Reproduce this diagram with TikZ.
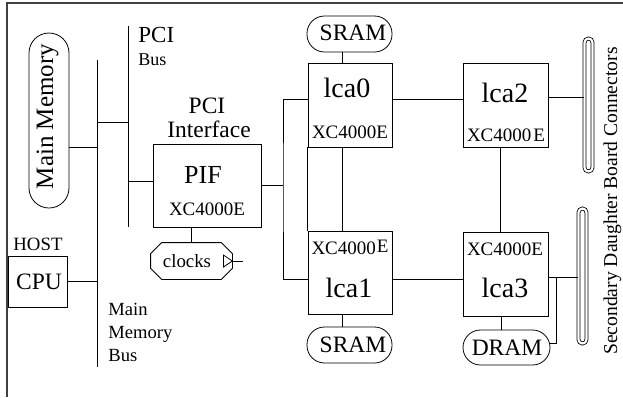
\documentclass[tikz,border=0pt]{standalone}
\usepackage{fontspec}
\setmainfont{Liberation Serif}
\usetikzlibrary{calc}

\begin{document}
\begin{tikzpicture}[x=1pt, y=-1pt, line width=0.8pt,
        box/.style={draw, inner sep=0pt},
        pill/.style={draw, inner sep=0pt, rounded corners=17.5pt},
        bar/.style={draw, double, double distance=2.2pt, inner sep=0pt, minimum width=8pt, rounded corners=4pt},
        lab/.style={inner sep=0pt, anchor=base},
        big/.style={lab, font=\fontsize{28}{28}\selectfont},
        mid/.style={lab, font=\fontsize{23.5}{23.5}\selectfont},
        small/.style={lab, font=\fontsize{19}{19}\selectfont}]
        \useasboundingbox (0,0) rectangle (623,397);
        \draw[line width=1.4pt, black!75] (623,3) -- (7,3) -- (7,397);
        
        % host side
        \node[pill, rounded corners=20pt, minimum width=40pt, minimum height=175pt] (mem) at (49,120.5) {};
        \node[lab, rotate=90, font=\fontsize{25}{25}\selectfont] (memtxt) at (53,116.5) {Main Memory};
        \node[box, minimum width=59pt, minimum height=51pt] (cpu) at (37.5,281.5) {};
        \node[mid] (cputxt) at (39,289) {CPU};
        \node[lab, anchor=base west, font=\fontsize{18.8}{18.8}\selectfont] (host) at (13,250) {HOST};
        
        % buses
        \coordinate (mmtop) at (97,60);
        \coordinate (mmbot) at (97,367);
        \coordinate (pcitop) at (128,26);
        \coordinate (pcibot) at (128,227);
        \coordinate (memtap) at (97,147);
        \coordinate (pcitap) at (97,122);
        \draw (mmtop) -- (mmbot);
        \draw (pcitop) -- (pcibot);
        \draw (memtap -| mem.east) -- (memtap);
        \draw (cpu.east) -- (cpu.east -| mmtop);
        \draw (pcitap) -- (pcitap -| pcitop);
        
        \node[lab, anchor=base west, font=\fontsize{23}{23}\selectfont] (pcilab) at (138,42) {PCI};
        \node[lab, anchor=base west, font=\fontsize{18}{18}\selectfont] (buslab) at (138,65) {Bus};
        \node[lab, anchor=base west, font=\fontsize{18.6}{18.6}\selectfont] (mmbA) at (108,315) {Main};
        \node[lab, anchor=base west, font=\fontsize{18.6}{18.6}\selectfont] (mmbB) at (108,338) {Memory};
        \node[lab, anchor=base west, font=\fontsize{18.6}{18.6}\selectfont] (mmbC) at (108,361) {Bus};
        
        % PCI interface
        \node[box, minimum width=108pt, minimum height=83pt] (pif) at (207,185.5) {};
        \node[lab, font=\fontsize{26}{26}\selectfont] (piftxt) at (203,183) {PIF};
        \node[small] (pifchip) at (207,215) {XC4000E};
        \node[mid] (pcia) at (207,113) {PCI};
        \node[mid] (pcib) at (209,137) {Interface};
        \draw (pif.176) -- (pif.176 -| pcitop);
        
        \node[inner sep=0pt, minimum width=81pt, minimum height=36pt] (clk) at (191.5,261) {};
        \draw ($(clk.north west)+(11,0)$) -- ($(clk.north east)+(-11,0)$) -- ($(clk.north east)+(0,11)$)
            -- ($(clk.south east)+(0,-11)$) -- ($(clk.south east)+(-11,0)$) -- ($(clk.south west)+(11,0)$)
            -- ($(clk.south west)+(0,-11)$) -- ($(clk.north west)+(0,11)$) -- cycle;
        \draw ($(clk.east)+(-9,-6)$) -- (clk.east) -- ($(clk.east)+(-9,6)$) -- cycle;
        \node[lab, font=\fontsize{18.8}{18.8}\selectfont] (clktxt) at (187,267) {clocks};
        \coordinate (clkout) at (243,261);
        \draw (clk.east) -- (clkout);
        \draw (clk.north) -- (clk.north |- pif.south);
        
        % lca chips
        \node[box, minimum width=84pt, minimum height=84pt] (lca0) at (350,105) {};
        \node[box, minimum width=84pt, minimum height=83pt] (lca1) at (350,272.5) {};
        \node[box, minimum width=85pt, minimum height=84pt] (lca2) at (505.5,105) {};
        \node[box, minimum width=85pt, minimum height=84pt] (lca3) at (505.5,274) {};
        
        \node[big] (lca0txt) at (347,97) {lca0};
        \node[small] (lca0chip) at (350,138) {XC4000E};
        \node[big] (lca1txt) at (349,297) {lca1};
        \node[small] (lca1chip) at (350,254) {XC4000\kern1pt\raisebox{2pt}{E}};
        \node[big] (lca2txt) at (505,102) {lca2};
        \node[small] (lca2chip) at (506,141) {XC4000\kern2pt E};
        \node[big] (lca3txt) at (505,297) {lca3};
        \node[small] (lca3chip) at (505,255) {XC4000E};
        
        % memories
        \node[pill, minimum width=85pt, minimum height=36pt] (sram0) at (349.5,34) {};
        \node[mid] (sram0txt) at (353,40) {SRAM};
        \node[pill, minimum width=85pt, minimum height=36pt] (sram1) at (349.5,345) {};
        \node[mid] (sram1txt) at (353,352) {SRAM};
        \node[pill, minimum width=87pt, minimum height=35pt] (dram) at (506.5,347.5) {};
        \node[mid] (dramtxt) at (507,355) {DRAM};
        
        % connectors
        \node[bar, minimum height=133pt] (cona) at (588.5,105) {};
        \node[bar, minimum height=135pt] (conb) at (582.5,276) {};
        \node[lab, rotate=90, font=\fontsize{19.6}{19.6}\selectfont] (sdbc) at (617,201) {Secondary Daughter Board Connectors};
        
        % wiring
        \coordinate (fork) at (283,185.5);
        \draw (pif.east) -- (fork);
        \draw (lca0.172) -| (fork) |- (lca1.189);
        \draw (lca0.8) -- (lca0.8 -| lca2.west);
        \draw (lca1.-9) -- (lca1.-9 -| lca3.west);
        \draw (lca0.100) -- (lca0.100 |- sram0.south);
        \draw (lca0.-100) -- (lca0.-100 |- lca1.north);
        \draw (lca0.south west) -- (lca1.north west);
        \draw (lca1.-100) -- (lca1.-100 |- sram1.north);
        \draw (lca2.-97) -- (lca2.-97 |- lca3.north);
        \draw (lca3.-95) -- (lca3.-95 |- dram.north);
        \draw (lca2.10) -- (lca2.10 -| cona.west);
        \draw (lca3.-4) -- (lca3.-4 -| conb.west);
        \coordinate (dtap) at (556,277);
        \draw (dram.5) -| (dtap);
    \end{tikzpicture}
\end{document}
